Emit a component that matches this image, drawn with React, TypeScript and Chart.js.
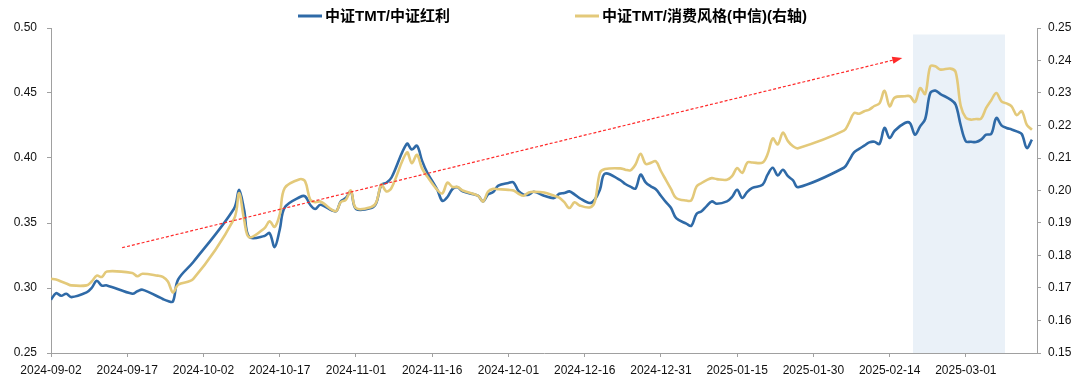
import React, { useEffect, useRef } from 'react';
import { Chart, registerables } from 'chart.js';

Chart.register(...registerables);

// ---------------- data ----------------
const dates = [
  '2024-09-02','2024-09-03','2024-09-04','2024-09-05','2024-09-06','2024-09-09','2024-09-10','2024-09-11','2024-09-12','2024-09-13','2024-09-18','2024-09-19','2024-09-20','2024-09-23','2024-09-24','2024-09-25','2024-09-26','2024-09-27','2024-09-30',
  '2024-10-08','2024-10-09','2024-10-10','2024-10-11','2024-10-14','2024-10-15','2024-10-16','2024-10-17','2024-10-18','2024-10-21','2024-10-22','2024-10-23','2024-10-24','2024-10-25','2024-10-28','2024-10-29','2024-10-30','2024-10-31',
  '2024-11-01','2024-11-04','2024-11-05','2024-11-06','2024-11-07','2024-11-08','2024-11-11','2024-11-12','2024-11-13','2024-11-14','2024-11-15','2024-11-17','2024-11-18','2024-11-19','2024-11-20','2024-11-21','2024-11-22','2024-11-25','2024-11-26','2024-11-27','2024-11-28','2024-11-29',
  '2024-12-01','2024-12-02','2024-12-03','2024-12-04','2024-12-05','2024-12-06','2024-12-08','2024-12-10','2024-12-11','2024-12-12','2024-12-13','2024-12-14','2024-12-15','2024-12-17','2024-12-18','2024-12-19','2024-12-20','2024-12-23','2024-12-24','2024-12-25','2024-12-26','2024-12-27','2024-12-28','2024-12-29','2024-12-30','2024-12-31',
  '2025-01-01','2025-01-02','2025-01-03','2025-01-05','2025-01-06','2025-01-07','2025-01-08','2025-01-09','2025-01-10','2025-01-11','2025-01-13','2025-01-14','2025-01-15','2025-01-16','2025-01-17','2025-01-18','2025-01-20','2025-01-21','2025-01-22','2025-01-23','2025-01-24','2025-01-25','2025-01-26','2025-01-27',
  '2025-02-05','2025-02-06','2025-02-07','2025-02-08','2025-02-09','2025-02-10','2025-02-11','2025-02-12','2025-02-13','2025-02-14','2025-02-15','2025-02-17','2025-02-18','2025-02-19','2025-02-20','2025-02-21','2025-02-22','2025-02-23','2025-02-24','2025-02-26','2025-02-27','2025-02-28',
  '2025-03-01','2025-03-02','2025-03-03','2025-03-04','2025-03-05','2025-03-06','2025-03-07','2025-03-08','2025-03-09','2025-03-10','2025-03-11','2025-03-12','2025-03-13','2025-03-14',
];

// 中证TMT/中证红利 (left axis)
const tmtVsDividend = [
  0.291,0.296,0.294,0.2956,0.293,0.2966,0.300,0.3056,0.3018,0.302,0.2956,0.2975,0.2987,0.2935,0.2915,0.2900,0.2897,0.3064,0.320,
  0.361,0.3756,0.360,0.3392,0.340,0.3423,0.3315,0.3448,0.362,0.370,0.3705,0.364,0.3608,0.364,0.359,0.3666,0.3692,0.3743,
  0.3608,0.3615,0.3654,0.3795,0.381,0.385,0.411,0.4065,0.4095,0.398,0.389,0.3756,0.367,0.370,0.3762,0.3775,0.3743,0.371,0.3666,0.372,0.3738,0.3787,
  0.3808,0.3812,0.3745,0.3718,0.3718,0.374,0.371,0.3692,0.3725,0.373,0.3743,0.372,0.3692,0.3654,0.368,0.3756,0.388,0.383,0.380,0.378,0.3765,0.3872,0.3812,0.3782,0.376,0.371,
  0.366,0.3615,0.3538,0.3495,0.3479,0.357,0.359,0.363,0.3666,0.3648,0.3666,0.370,0.3756,0.3692,0.374,0.377,0.3795,0.3872,0.3925,0.3865,0.391,0.386,0.3828,0.3775,
  0.3925,0.398,0.4043,0.407,0.4095,0.412,0.4125,0.4108,0.4231,0.4154,0.421,0.4269,0.4269,0.4179,0.4243,0.430,0.450,0.4518,0.4492,0.4449,0.441,0.425,
  0.4128,0.4125,0.4123,0.4141,0.4179,0.4185,0.4308,0.4251,0.4231,0.422,0.4205,0.4185,0.4077,0.4141,
];

// 中证TMT/消费风格(中信) (right axis)
const tmtVsConsumption = [
  0.1728,0.1726,0.1720,0.1714,0.1708,0.1708,0.1720,0.1738,0.1734,0.1751,0.1746,0.1736,0.1744,0.1738,0.1734,0.1720,0.1686,0.1710,0.1728,
  0.1912,0.1992,0.1910,0.1856,0.1884,0.1905,0.1888,0.1926,0.2008,0.2035,0.2028,0.1972,0.1964,0.1966,0.1936,0.1964,0.1971,0.2000,
  0.1946,0.1949,0.1964,0.2018,0.1997,0.2008,0.2117,0.2084,0.2110,0.2068,0.2044,0.2002,0.1991,0.2024,0.2011,0.2011,0.2000,0.1984,0.1966,0.1997,0.2005,0.2004,
  0.2002,0.2000,0.1990,0.1984,0.1994,0.1996,0.1994,0.1984,0.1978,0.1964,0.1946,0.1964,0.1954,0.1948,0.1966,0.2054,0.2066,0.2068,0.2064,0.2062,0.2080,0.2113,0.2082,0.2085,0.2090,0.2060,
  0.2032,0.2004,0.1977,0.1969,0.1970,0.2012,0.2023,0.2032,0.2038,0.2035,0.2033,0.2044,0.2069,0.2054,0.2086,0.2086,0.2086,0.2112,0.2160,0.2142,0.2178,0.2152,0.2136,0.2130,
  0.2184,0.2208,0.2238,0.2236,0.2244,0.2249,0.2260,0.2268,0.2307,0.2259,0.2286,0.2290,0.2290,0.2272,0.2315,0.2297,0.2382,0.2382,0.2372,0.2375,0.2364,0.2260,
  0.2224,0.2218,0.2220,0.2221,0.2254,0.2278,0.2300,0.2274,0.2268,0.2259,0.2232,0.2244,0.2202,0.2187,
];

const seriesNames = ['中证TMT/中证红利', '中证TMT/消费风格(中信)(右轴)'];

const xTickDates = [
  '2024-09-02','2024-09-17','2024-10-02','2024-10-17','2024-11-01','2024-11-16','2024-12-01',
  '2024-12-16','2024-12-31','2025-01-15','2025-01-30','2025-02-14','2025-03-01',
];
const xAxisEnd = '2025-03-15';

// highlighted window and trend arrow (dates / left-axis values)
const highlightFrom = '2025-02-18';
const highlightTo = '2025-03-08';
const highlightTop = 0.495;
const arrowFrom = { date: '2024-09-16', value: 0.331 };
const arrowTo = { date: '2025-02-16', value: 0.477 };

// ---------------- helpers ----------------
const START_MS = Date.UTC(2024, 8, 2);
const DAY = 86400000;
function dayOf(d: string): number {
  const [y, m, dd] = d.split('-').map(Number);
  return Math.round((Date.UTC(y, m - 1, dd) - START_MS) / DAY);
}
function labelOf(v: number): string {
  return new Date(START_MS + Math.round(v) * DAY).toISOString().slice(0, 10);
}

const BLUE = '#2F6AA7';
const GOLD = '#E3C97A';
const AXIS = '#A0A0A0';
const FONT = '"Liberation Sans", Arial, "Noto Sans CJK SC", sans-serif';

const overlayPlugin = {
  id: 'overlay',
  beforeDatasetsDraw(chart: any) {
    const { ctx, chartArea, scales } = chart;
    const x0 = scales.x.getPixelForValue(dayOf(highlightFrom) + 0.6);
    const x1 = scales.x.getPixelForValue(dayOf(highlightTo) + 0.7);
    const yTop = scales.y.getPixelForValue(highlightTop);
    ctx.save();
    ctx.fillStyle = '#EAF1F8';
    ctx.fillRect(x0, yTop, x1 - x0, chartArea.bottom - yTop);
    ctx.restore();
  },
  afterDatasetsDraw(chart: any) {
    const { ctx, scales } = chart;
    const ax = scales.x.getPixelForValue(dayOf(arrowFrom.date));
    const ay = scales.y.getPixelForValue(arrowFrom.value);
    const bx = scales.x.getPixelForValue(dayOf(arrowTo.date) + 0.5);
    const by = scales.y.getPixelForValue(arrowTo.value);
    const ang = Math.atan2(by - ay, bx - ax);
    const headLen = 10;
    const headW = 3.6;
    const baseX = bx - headLen * Math.cos(ang);
    const baseY = by - headLen * Math.sin(ang);
    ctx.save();
    ctx.strokeStyle = '#FF2A2A';
    ctx.lineWidth = 1.2;
    ctx.setLineDash([3, 2]);
    ctx.beginPath();
    ctx.moveTo(ax, ay);
    ctx.lineTo(baseX, baseY);
    ctx.stroke();
    ctx.setLineDash([]);
    ctx.fillStyle = '#FF2A2A';
    ctx.beginPath();
    ctx.moveTo(bx, by);
    ctx.lineTo(baseX - headW * Math.sin(ang), baseY + headW * Math.cos(ang));
    ctx.lineTo(baseX + headW * Math.sin(ang), baseY - headW * Math.cos(ang));
    ctx.closePath();
    ctx.fill();
    ctx.restore();
  },
  afterDraw(chart: any) {
    const { ctx } = chart;
    const items = [
      { x: 298, color: BLUE, text: seriesNames[0] },
      { x: 575, color: GOLD, text: seriesNames[1] },
    ];
    const cy = 16;
    ctx.save();
    ctx.font = `bold 15px ${FONT}`;
    ctx.textBaseline = 'middle';
    ctx.textAlign = 'left';
    for (const it of items) {
      ctx.strokeStyle = it.color;
      ctx.lineWidth = 3;
      ctx.beginPath();
      ctx.moveTo(it.x, cy);
      ctx.lineTo(it.x + 24, cy);
      ctx.stroke();
      ctx.fillStyle = '#000';
      ctx.fillText(it.text, it.x + 27, cy + 1);
    }
    ctx.restore();
  },
};

export default function App() {
  const ref = useRef<HTMLCanvasElement | null>(null);

  useEffect(() => {
    document.body.style.margin = '0';
    if (!ref.current) return;
    const blueData = dates.map((d, i) => ({ x: dayOf(d), y: tmtVsDividend[i] }));
    const goldData = dates.map((d, i) => ({ x: dayOf(d), y: tmtVsConsumption[i] }));
    const tickFont = { family: FONT, size: 12 };

    const chart = new Chart(ref.current, {
      type: 'line',
      data: {
        datasets: [
          {
            label: seriesNames[0],
            data: blueData,
            yAxisID: 'y',
            borderColor: BLUE,
            borderWidth: 2.6,
            pointRadius: 0,
            tension: 0.35,
            fill: false,
            order: 1,
          },
          {
            label: seriesNames[1],
            data: goldData,
            yAxisID: 'y1',
            borderColor: GOLD,
            borderWidth: 2.6,
            pointRadius: 0,
            tension: 0.35,
            fill: false,
            order: 0,
          },
        ],
      },
      options: {
        responsive: false,
        animation: false,
        devicePixelRatio: 1,
        layout: { padding: { top: 28, left: 0, right: 0, bottom: 0 } },
        plugins: {
          legend: { display: false },
          tooltip: { enabled: false },
        },
        events: [],
        scales: {
          x: {
            type: 'linear',
            min: 0,
            max: dayOf(xAxisEnd),
            afterBuildTicks: (scale: any) => {
              scale.ticks = xTickDates.map((d) => ({ value: dayOf(d) }));
            },
            afterFit: (scale: any) => {
              scale.height = 28;
            },
            ticks: {
              autoSkip: false,
              maxRotation: 0,
              minRotation: 0,
              padding: 6,
              color: '#111',
              font: tickFont,
              callback: (v: any) => labelOf(Number(v)),
            },
            grid: { display: true, drawOnChartArea: false, drawTicks: true, tickLength: 4, color: AXIS },
            border: { display: true, color: AXIS, width: 1 },
          },
          y: {
            type: 'linear',
            position: 'left',
            min: 0.25,
            max: 0.5,
            afterFit: (scale: any) => {
              scale.width = 51;
            },
            ticks: {
              stepSize: 0.05,
              padding: 10,
              color: '#111',
              font: tickFont,
              callback: (v: any) => Number(v).toFixed(2),
            },
            grid: { display: true, drawOnChartArea: false, drawTicks: true, tickLength: 4, color: AXIS },
            border: { display: true, color: AXIS, width: 1 },
          },
          y1: {
            type: 'linear',
            position: 'right',
            min: 0.15,
            max: 0.25,
            afterFit: (scale: any) => {
              scale.width = 43;
            },
            ticks: {
              stepSize: 0.01,
              padding: 7,
              color: '#111',
              font: tickFont,
              callback: (v: any) => Number(v).toFixed(2),
            },
            grid: { display: true, drawOnChartArea: false, drawTicks: true, tickLength: 4, color: AXIS },
            border: { display: true, color: AXIS, width: 1 },
          },
        },
      } as any,
      plugins: [overlayPlugin],
    });
    return () => chart.destroy();
  }, []);

  return (
    <div style={{ position: 'absolute', left: 0, top: 0, width: 1080, height: 381, background: '#fff' }}>
      <canvas ref={ref} width={1080} height={381} style={{ width: 1080, height: 381, display: 'block' }} />
    </div>
  );
}
